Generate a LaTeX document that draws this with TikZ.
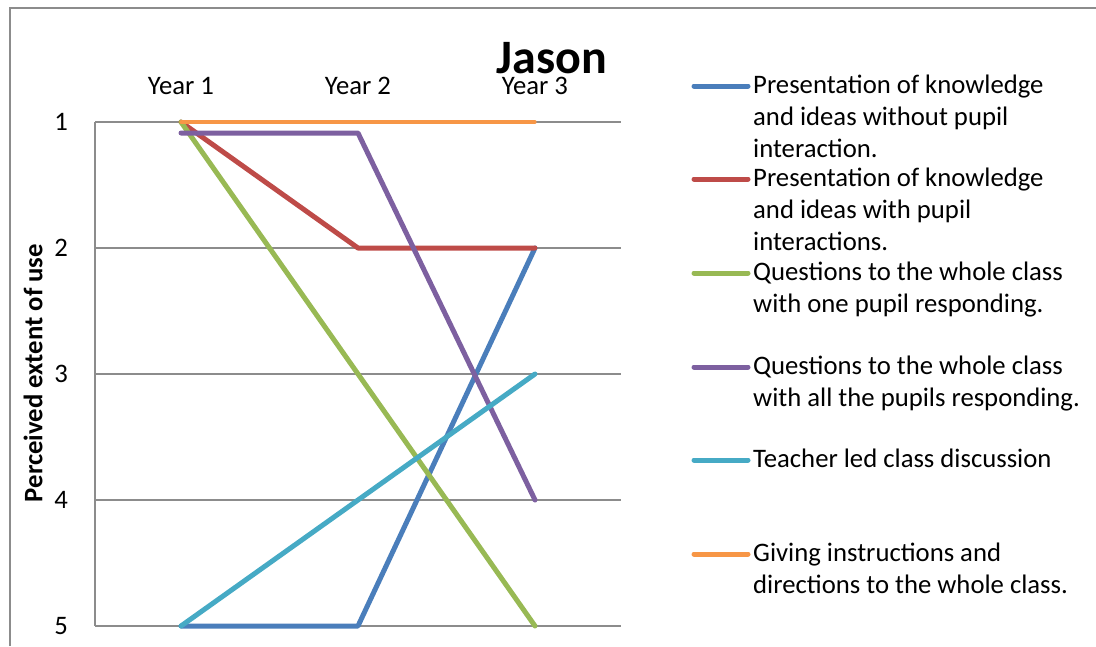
\documentclass[tikz,border=0pt]{standalone}
\usepackage{fontspec}
\setmainfont{Carlito}
\definecolor{sblue}{HTML}{4A7EBB}
\definecolor{sred}{HTML}{BE4B48}
\definecolor{sgreen}{HTML}{98B954}
\definecolor{spurple}{HTML}{7D60A0}
\definecolor{scyan}{HTML}{46AAC5}
\definecolor{sorange}{HTML}{F79646}
\definecolor{gridgray}{HTML}{8C8C8C}
\tikzset{
  series/.style={line width=5pt, line cap=round, line join=round},
  gridline/.style={draw=gridgray, line width=1.3pt},
  lab/.style={inner sep=0pt, font=\fontsize{26.7}{32}\selectfont},
  legtext/.style={lab, anchor=base west, align=left},
  ticklab/.style={lab, anchor=east},
  catlab/.style={lab, anchor=base},
}
\begin{document}
\begin{tikzpicture}[x=1pt,y=-1pt]
\useasboundingbox (0,0) rectangle (1096,646);
% outer frame
\coordinate (fbl) at (10,646);
\coordinate (ftl) at (10,8);
\coordinate (ftr) at (1096,8);
\draw[draw=gridgray, line width=1.3pt] (fbl) -- (ftl) -- (ftr);
% title
\node[inner sep=0pt, anchor=base, font=\fontsize{48}{54}\selectfont\bfseries] (title) at (552,73) {Jason};
% grid
\foreach \v/\yy in {1/122,2/248,3/374,4/500,5/626}{
  \coordinate (gl\v) at (95,\yy);
  \coordinate (gr\v) at (621,\yy);
  \draw[gridline] (gl\v) -- (gr\v);
  \node[ticklab] (tick\v) at (68,\yy) {\v};
}
\draw[gridline] (gl1) -- (gl5);
% category labels
\node[catlab] (y1) at (181,94) {Year 1};
\node[catlab] (y2) at (358,94) {Year 2};
\node[catlab] (y3) at (535,94) {Year 3};
% axis title
\node[lab, font=\fontsize{26.7}{32}\selectfont\bfseries, rotate=90] (ytitle) at (33,373) {Perceived extent of use};
% data points
\def\yv#1{122+126*(#1-1)}
\coordinate (b1) at (181,{\yv{5}}); \coordinate (b2) at (358,{\yv{5}}); \coordinate (b3) at (535,{\yv{2}});
\coordinate (r1) at (181,{\yv{1}}); \coordinate (r2) at (358,{\yv{2}}); \coordinate (r3) at (535,{\yv{2}});
\coordinate (g1) at (181,{\yv{1}}); \coordinate (g2) at (358,{\yv{3}}); \coordinate (g3) at (535,{\yv{5}});
\coordinate (p1) at (181,133); \coordinate (p2) at (358,133); \coordinate (p3) at (535,{\yv{4}});
\coordinate (c1) at (181,{\yv{5}}); \coordinate (c2) at (358,{\yv{4}}); \coordinate (c3) at (535,{\yv{3}});
\coordinate (o1) at (181,122); \coordinate (o2) at (358,122); \coordinate (o3) at (535,122);
\draw[series, sblue] (b1) -- (b2) -- (b3);
\draw[series, sred] (r1) -- (r2) -- (r3);
\draw[series, sgreen] (g1) -- (g2) -- (g3);
\draw[series, spurple] (p1) -- (p2) -- (p3);
\draw[series, scyan] (c1) -- (c2) -- (c3);
\draw[series, sorange, line width=3.2pt] (o1) -- (o2) -- (o3);
% legend (node base = baseline of last line)
\foreach \n/\col/\yy/\nl/\txt in {
  1/sblue/86/3/{Presentation of knowledge\\and ideas without pupil\\interaction.},
  2/sred/179/3/{Presentation of knowledge\\and ideas with pupil\\interactions.},
  3/sgreen/273/2/{Questions to the whole class\\with one pupil responding.},
  4/spurple/367/2/{Questions to the whole class\\with all the pupils responding.},
  5/scyan/460/1/{Teacher led class discussion},
  6/sorange/554/2/{Giving instructions and\\directions to the whole class.}}{
  \coordinate (la\n) at (694,\yy);
  \coordinate (lb\n) at (748,\yy);
  \draw[series, \col] (la\n) -- (lb\n);
  \node[legtext] (lt\n) at (753,{\yy+7.5+32*(\nl-1)}) {\txt};
}
\end{tikzpicture}
\end{document}
